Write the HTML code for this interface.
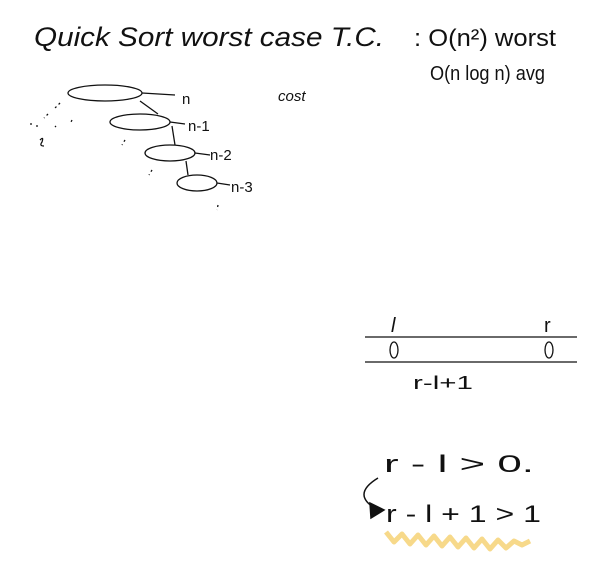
<!DOCTYPE html>
<html><head><meta charset="utf-8"><style>
html,body{margin:0;padding:0;background:#fff;}
svg{display:block}
text{font-family:"Liberation Sans",sans-serif;fill:#111;}
</style></head><body>
<svg width="605" height="571" viewBox="0 0 605 571">
<rect width="605" height="571" fill="#fff"/>
<g>
<text x="34" y="46" font-size="27" textLength="350" lengthAdjust="spacingAndGlyphs" font-style="italic">Quick Sort worst case  T.C.</text>
</g>
<text x="414" y="46" font-size="24" textLength="142" lengthAdjust="spacingAndGlyphs">: O(n²) worst</text>
<text x="430" y="80" font-size="20" textLength="115" lengthAdjust="spacingAndGlyphs">O(n log n) avg</text>
<text x="278" y="101" font-size="15" font-style="italic">cost</text>
<g fill="none" stroke="#111" stroke-width="1.3">
<ellipse cx="105" cy="93" rx="37" ry="8"/>
<ellipse cx="140" cy="122" rx="30" ry="8"/>
<ellipse cx="170" cy="153" rx="25" ry="8"/>
<ellipse cx="197" cy="183" rx="20" ry="8"/>
<path d="M140 101 L158 114 M172 126 L175 145 M186 161 L188 175"/>
<path d="M142 93 L175 95 M170 122 L185 124 M195 153 L210 155 M217 183 L230 185"/>
<path d="M60 103 L55 108 M48 114 L44 118 M72 120 L70 124 M125 140 L122 145 M152 170 L149 175 M218 205 L217 210" stroke-dasharray="2 3"/>
<path d="M40 140 q4 -4 2 2 q-3 4 2 4"/>
<path d="M30 124 l2 0 M36 126 l2 0 M55 126 l1 1"/>
</g>
<text x="182" y="104" font-size="15">n</text>
<text x="188" y="131" font-size="15">n-1</text>
<text x="210" y="160" font-size="15">n-2</text>
<text x="231" y="192" font-size="15">n-3</text>
<g fill="none" stroke="#111" stroke-width="1.3">
<path d="M365 337 L577 337 M365 362 L577 362"/>
<ellipse cx="394" cy="350" rx="4" ry="8"/>
<ellipse cx="549" cy="350" rx="4" ry="8"/>
</g>
<text x="391" y="332" font-size="20" font-style="italic">l</text>
<text x="544" y="332" font-size="20">r</text>
<text x="413" y="389" font-size="18" textLength="60" lengthAdjust="spacingAndGlyphs">r-l+1</text>
<text x="384" y="472" font-size="24" textLength="150" lengthAdjust="spacingAndGlyphs">r - l &gt; 0.</text>
<text x="386" y="522" font-size="24" textLength="155" lengthAdjust="spacingAndGlyphs">r - l + 1 &gt; 1</text>
<g stroke="#111" stroke-width="1.5" fill="none">
<path d="M378 478 Q350 495 378 510"/>
<polygon points="370,503 384,510 371,518" fill="#111"/>
</g>
<path d="M386 532 l8 10 l8 -8 l8 10 l8 -9 l8 10 l8 -9 l8 10 l8 -9 l8 10 l8 -9 l8 10 l8 -9 l8 10 l8 -9 l8 8 l8 -7 l8 4 l8 -4" fill="none" stroke="#f7d98a" stroke-width="5" stroke-linejoin="round"/>
</svg>
</body></html>
